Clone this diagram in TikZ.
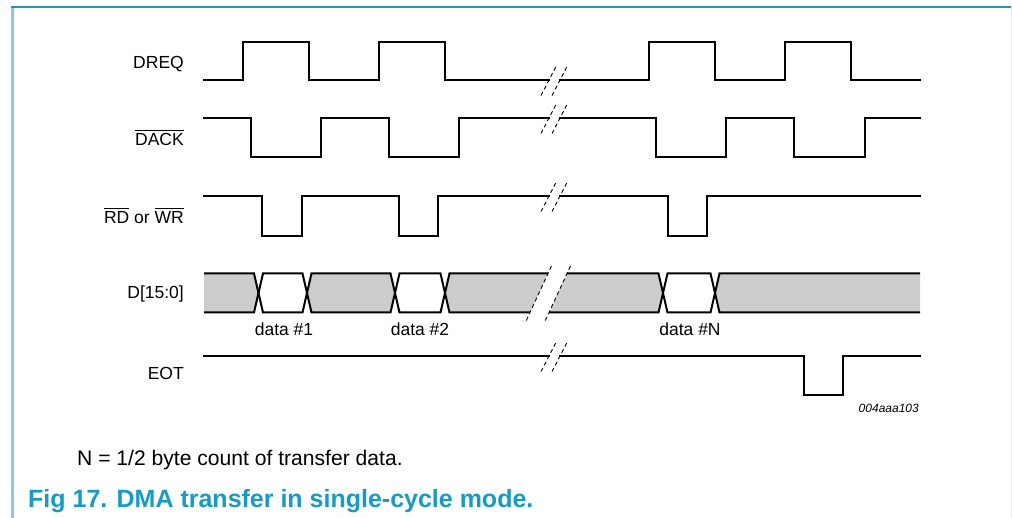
\documentclass[tikz,border=0pt]{standalone}
\usepackage{fontspec}
\setmainfont{Liberation Sans}
\definecolor{frametop}{RGB}{30,150,190}
\definecolor{frameleft}{RGB}{128,204,224}
\definecolor{frameright}{RGB}{225,232,238}
\definecolor{captioncol}{RGB}{20,155,200}
\definecolor{busgray}{RGB}{204,204,204}
\newcommand{\ovl}[1]{\vbox{\hrule height 0.9pt\kern 2.4pt\hbox{#1}}}
\newcommand{\brkmarks}[1]{%
  \draw[brk] (541,#1+15) -- (556,#1-14);
  \draw[brk] (552,#1+15) -- (567,#1-14);}
\tikzset{
  wave/.style={line width=2pt, line join=miter, line cap=rect},
  brk/.style={line width=0.9pt, dash pattern=on 4pt off 3pt},
  sig/.style={anchor=base east, inner sep=0pt, font=\fontsize{17.5}{20}\selectfont},
  dlbl/.style={anchor=base, inner sep=0pt, font=\fontsize{17.5}{20}\selectfont},
  busfill/.style={fill=busgray, draw=none},
}
\begin{document}
\begin{tikzpicture}[x=1pt,y=-1pt]
\useasboundingbox (0,0) rectangle (1012,518);
% frame
\draw[frameleft, line width=2.5pt] (12.5,7) -- (12.5,518);
\draw[frameright, line width=1pt] (1011,7) -- (1011,518);
\draw[frametop, line width=1.5pt] (11.25,7) -- (1011,7);

% labels
\node[sig] (lDREQ) at (184,68.5) {DREQ};
\node[sig] (lDACK) at (184,145.7) {\ovl{DACK}};
\node[sig] (lRD) at (184,223.5) {\ovl{RD} or \ovl{WR}};
\node[sig] (lD) at (184,299) {D[15:0]};
\node[sig] (lEOT) at (184,379.5) {EOT};

% DREQ
\draw[wave] (204,80.5) -- (243,80.5) -- (243,42) -- (309,42) -- (309,80.5) -- (379,80.5) -- (379,42) -- (445,42) -- (445,80.5) -- (548.8,80.5);
\draw[wave] (559.8,80.5) -- (649,80.5) -- (649,42) -- (715,42) -- (715,80.5) -- (785,80.5) -- (785,42) -- (851,42) -- (851,80.5) -- (920,80.5);
\brkmarks{80.5}
% DACK
\draw[wave] (204,118.5) -- (251,118.5) -- (251,157.5) -- (321,157.5) -- (321,118.5) -- (389,118.5) -- (389,157.5) -- (459,157.5) -- (459,118.5) -- (548.8,118.5);
\draw[wave] (559.8,118.5) -- (656,118.5) -- (656,157.5) -- (726,157.5) -- (726,118.5) -- (794,118.5) -- (794,157.5) -- (865,157.5) -- (865,118.5) -- (920,118.5);
\brkmarks{118.5}
% RD or WR
\draw[wave] (204,196.5) -- (262,196.5) -- (262,236) -- (302,236) -- (302,196.5) -- (399,196.5) -- (399,236) -- (438,236) -- (438,196.5) -- (548.8,196.5);
\draw[wave] (559.8,196.5) -- (668,196.5) -- (668,236) -- (707,236) -- (707,196.5) -- (920,196.5);
\brkmarks{196.5}
% EOT
\draw[wave] (204,356.5) -- (548.8,356.5);
\draw[wave] (559.8,356.5) -- (804,356.5) -- (804,395) -- (843,395) -- (843,356.5) -- (920,356.5);
\brkmarks{356.5}

% D[15:0] bus
\def\bt{273.5}\def\bb{312.5}\def\bm{293}
\fill[busfill] (204,\bt) -- (254,\bt) -- (258.5,\bm) -- (254,\bb) -- (204,\bb) -- cycle;
\fill[busfill] (311.5,\bt) -- (390.5,\bt) -- (395,\bm) -- (390.5,\bb) -- (311.5,\bb) -- (307,\bm) -- cycle;
\fill[busfill] (449.5,\bt) -- (548,\bt) -- (530,\bb) -- (449.5,\bb) -- (445,\bm) -- cycle;
\fill[busfill] (567,\bt) -- (658.5,\bt) -- (663,\bm) -- (658.5,\bb) -- (549,\bb) -- cycle;
\fill[busfill] (719.5,\bt) -- (920,\bt) -- (920,\bb) -- (719.5,\bb) -- (715,\bm) -- cycle;
\draw[wave, line cap=butt] (204,\bt) -- (254,\bt) -- (263,\bb) -- (302.5,\bb) -- (311.5,\bt) -- (390.5,\bt) -- (399.5,\bb) -- (440.5,\bb) -- (449.5,\bt) -- (548,\bt);
\draw[wave, line cap=butt] (204,\bb) -- (254,\bb) -- (263,\bt) -- (302.5,\bt) -- (311.5,\bb) -- (390.5,\bb) -- (399.5,\bt) -- (440.5,\bt) -- (449.5,\bb) -- (530,\bb);
\draw[wave, line cap=butt] (567,\bt) -- (658.5,\bt) -- (667.5,\bb) -- (710.5,\bb) -- (719.5,\bt) -- (920,\bt);
\draw[wave, line cap=butt] (549,\bb) -- (658.5,\bb) -- (667.5,\bt) -- (710.5,\bt) -- (719.5,\bb) -- (920,\bb);
\draw[brk] (526.3,320.5) -- (551.7,265.5);
\draw[brk] (545.3,320.5) -- (570.7,265.5);

\node[dlbl] (d1) at (284,336) {data \#1};
\node[dlbl] (d2) at (420,336) {data \#2};
\node[dlbl] (dN) at (690,336) {data \#N};

\node[anchor=base east, inner sep=0pt, font=\fontsize{12}{14}\selectfont\itshape] (ref) at (919,412.7) {004aaa103};

\node[anchor=base west, inner sep=0pt, font=\fontsize{21.1}{24}\selectfont] (note) at (77,465) {N = 1/2 byte count of transfer data.};
\node[anchor=base west, inner sep=0pt, text=captioncol, font=\fontsize{25}{28}\selectfont\bfseries] (cap) at (28,507) {Fig 17. DMA transfer in single-cycle mode.};
\end{tikzpicture}
\end{document}
